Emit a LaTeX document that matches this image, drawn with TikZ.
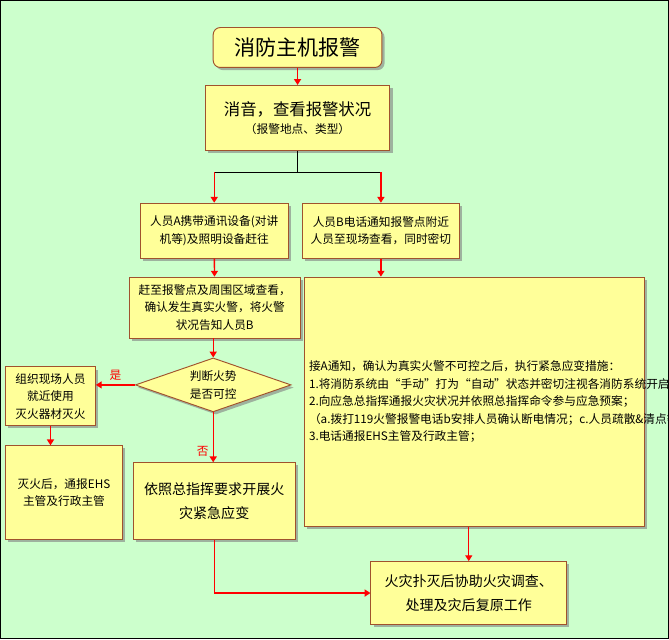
\documentclass[tikz,border=0pt]{standalone}
\usepackage{fontspec}
\setmainfont{Noto Sans CJK SC}
\usetikzlibrary{shadows, shapes.geometric, arrows.meta}
\definecolor{bgreen}{HTML}{CCFFCC}
\definecolor{byellow}{HTML}{FFFF99}
\definecolor{bbrown}{HTML}{A0522D}

\begin{document}
\begin{tikzpicture}[x=0.03cm, y=-0.03cm,
	box/.style={draw=bbrown, fill=byellow, line width=0.8pt, align=center, font=\fontsize{10}{15}\selectfont,
		drop shadow={shadow xshift=0.08cm, shadow yshift=-0.08cm, fill=gray, opacity=0.6}, inner sep=0pt},
	arr/.style={red, line width=1.2pt, -{Triangle[length=5pt, width=6pt]}}]
	
	\fill[bgreen, draw=black, line width=1pt] (0,0) rectangle (669,639);
	
	% boxes
	\node[box, rounded corners=6pt, minimum width=169*0.03cm, minimum height=40*0.03cm, font=\fontsize{18}{20}\selectfont] (alarm) at (297.5,47) {消防主机报警};
	\node[box, minimum width=185*0.03cm, minimum height=65*0.03cm] (check) at (297.5,117.5) {{\fontsize{14}{18}\selectfont 消音，查看报警状况}\\（报警地点、类型）};
	\node[box, minimum width=148*0.03cm, minimum height=55*0.03cm] (pa) at (214,230.5) {人员A携带通讯设备(对讲\\机等)及照明设备赶往};
	\node[box, minimum width=158*0.03cm, minimum height=55*0.03cm] (pb) at (381,230.5) {人员B电话通知报警点附近\\人员至现场查看，同时密切};
	\node[box, minimum width=171*0.03cm, minimum height=61*0.03cm] (scene) at (214.5,307.5) {赶至报警点及周围区域查看，\\确认发生真实火警，将火警\\状况告知人员B};
	\node[box, minimum width=341*0.03cm, minimum height=250*0.03cm, text width=331*0.03cm, align=left] (measure) at (474.5,402) {接A通知，确认为真实火警不可控之后，执行紧急应变措施：\\1.将消防系统由“手动”打为“自动”状态并密切注视各消防系统开启及运行状况；\\2.向应急总指挥通报火灾状况并依照总指挥命令参与应急预案；\\（a.拨打119火警报警电话b安排人员确认断电情况；c.人员疏散\&清点等等）；\\3.电话通报EHS主管及行政主管；};
	\node[box, diamond, aspect=3.1, minimum width=156*0.03cm, minimum height=54*0.03cm] (judge) at (213,385) {判断火势\\是否可控};
	\node[box, minimum width=90*0.03cm, minimum height=59*0.03cm] (fight) at (50,396.5) {组织现场人员\\就近使用\\灭火器材灭火};
	\node[box, minimum width=117*0.03cm, minimum height=94*0.03cm] (report) at (63.5,493) {灭火后，通报EHS\\主管及行政主管};
	\node[box, minimum width=162*0.03cm, minimum height=77*0.03cm, font=\fontsize{12}{20}\selectfont] (follow) at (214,501.5) {依照总指挥要求开展火\\灾紧急应变};
	\node[box, minimum width=196*0.03cm, minimum height=63*0.03cm, font=\fontsize{12}{20}\selectfont] (restore) at (469,593.5) {火灾扑灭后协助火灾调查、\\处理及灾后复原工作};
	
	% connectors
	\draw[arr] (alarm) -- (check);
	\coordinate (split) at (297.5,172);
	\draw[line width=0.8pt] (check) -- (split);
	\draw[line width=0.8pt] (pa |- split) -- (pb |- split);
	\draw[arr] (pa |- split) -- (pa);
	\draw[arr] (pb |- split) -- (pb);
	\draw[arr] (pa) -- (scene);
	\draw[arr] (pb) -- (pb |- measure.north);
	\draw[arr] (scene.south -| judge) -- (judge);
	\draw[arr] (judge.west) -- (fight.east |- judge.west) node[midway, above, font=\fontsize{10}{12}\selectfont] {是};
	\draw[arr] (fight) -- (report.north -| fight);
	\draw[arr] (judge) -- (follow.north -| judge) node[pos=0.78, left, font=\fontsize{10}{12}\selectfont] {否};
	\draw[arr] (follow.south) |- (restore.west);
	\draw[arr] (measure.south -| restore) -- (restore);

\end{tikzpicture}
\end{document}
